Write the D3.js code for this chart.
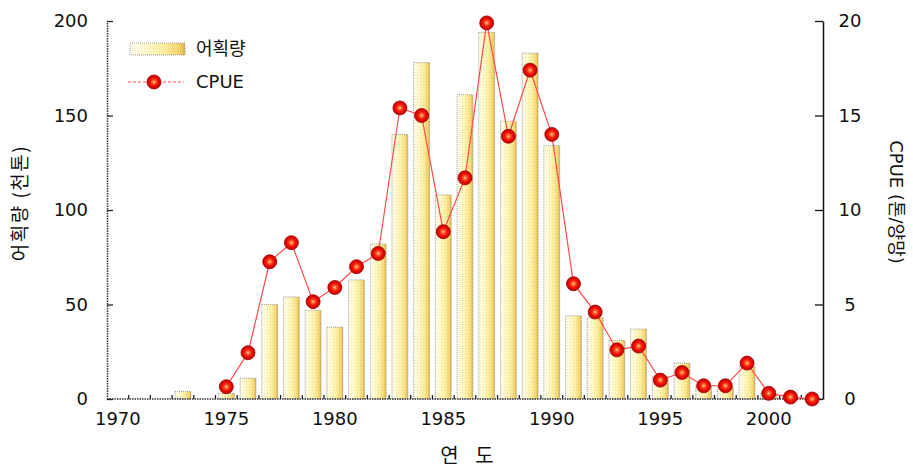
<!DOCTYPE html>
<html>
<head>
<meta charset="utf-8">
<script src="https://cdn.jsdelivr.net/npm/d3@7"></script>
<style>
  html, body { margin: 0; padding: 0; background: #fff; }
  svg { display: block; }
</style>
</head>
<body>
<svg id="chart" width="913" height="472"></svg>
<script>
// ---------------- data ----------------
const years = [1970,1971,1972,1973,1974,1975,1976,1977,1978,1979,1980,1981,1982,1983,1984,1985,1986,
               1987,1988,1989,1990,1991,1992,1993,1994,1995,1996,1997,1998,1999,2000,2001,2002];
// 어획량 (천톤)
const catchValues = [0,0,0,4,0,3,11,50,54,47,38,63,82,140,178,108,161,
                     194,147,183,134,44,43,31,37,12,19,7,6,17,3,1,0];
// CPUE (톤/양망)
const cpueValues = [null,null,null,null,null,0.65,2.45,7.26,8.27,5.15,5.9,7.0,7.7,15.4,15.0,8.85,11.7,
                    19.9,13.9,17.4,14.0,6.1,4.6,2.6,2.8,1.0,1.4,0.7,0.7,1.9,0.3,0.1,0.0];
const xTickLabels = [1970,1975,1980,1985,1990,1995,2000];
const leftTicks = [0,50,100,150,200];
const rightTicks = [0,5,10,15,20];
const leftTitle = "어획량 (천톤)";
const rightTitle = "CPUE (톤/양망)";
const xTitle = "연 도";
const legendLabels = ["어획량", "CPUE"];

// ---------------- layout ----------------
const svg = d3.select("#chart");
const L = 107, R = 823, T = 21, B = 399;
const numFont = "'DejaVu Sans', sans-serif";
const krFont = "'Noto Sans CJK KR', 'DejaVu Sans', sans-serif";
const textColor = "#111";

const x = d3.scaleBand().domain(years).range([L, R]).paddingInner(0.27).paddingOuter(0.135);
const yL = d3.scaleLinear().domain([0, 200]).range([B, T]);
const yR = d3.scaleLinear().domain([0, 20]).range([B, T]);

// ---------------- defs ----------------
const defs = svg.append("defs");
const bg = defs.append("linearGradient").attr("id", "barGrad").attr("x1", "0%").attr("x2", "100%").attr("y1", "0%").attr("y2", "0%");
[["0%", "#fffff6"], ["30%", "#fefad0"], ["62%", "#fbf0a4"], ["88%", "#f3d670"], ["100%", "#e4ae44"]].forEach(s =>
  bg.append("stop").attr("offset", s[0]).attr("stop-color", s[1]));

const pat = defs.append("pattern").attr("id", "dots").attr("width", 3).attr("height", 3).attr("patternUnits", "userSpaceOnUse");
pat.append("rect").attr("x", 0).attr("y", 0).attr("width", 1).attr("height", 1).attr("fill", "rgba(220,170,60,0.3)");
pat.append("rect").attr("x", 1.5).attr("y", 1.5).attr("width", 1).attr("height", 1).attr("fill", "rgba(255,240,140,0.35)");

const rg = defs.append("radialGradient").attr("id", "dotGrad").attr("cx", "50%").attr("cy", "50%").attr("r", "50%");
[["0%", "#ffe6b0"], ["22%", "#ff6a30"], ["55%", "#f4140a"], ["100%", "#c00000"]].forEach(s =>
  rg.append("stop").attr("offset", s[0]).attr("stop-color", s[1]));

svg.append("rect").attr("width", 913).attr("height", 472).attr("fill", "#fff");

// ---------------- bars ----------------
const bars = svg.append("g");
const barData = years.map((y, i) => ({ year: y, v: catchValues[i] })).filter(d => d.v > 0);
bars.selectAll("rect.bar").data(barData).join("rect").attr("class", "bar")
  .attr("x", d => x(d.year)).attr("width", x.bandwidth())
  .attr("y", d => yL(d.v)).attr("height", d => B - yL(d.v))
  .attr("fill", "url(#barGrad)")
  .attr("stroke", "#999").attr("stroke-width", 1).attr("stroke-dasharray", "1,1");
bars.selectAll("rect.tex").data(barData).join("rect").attr("class", "tex")
  .attr("x", d => x(d.year)).attr("width", x.bandwidth())
  .attr("y", d => yL(d.v)).attr("height", d => B - yL(d.v))
  .attr("fill", "url(#dots)");

// ---------------- x baseline & stubs ----------------
svg.append("line").attr("x1", L).attr("x2", R).attr("y1", B).attr("y2", B)
  .attr("stroke", "#333").attr("stroke-width", 1.5).attr("stroke-dasharray", "1.5,1");
const stubs = years.slice(1).map(y => x(y) - (x.step() - x.bandwidth()) / 2);
svg.append("g").selectAll("line").data(stubs).join("line")
  .attr("x1", d => d).attr("x2", d => d).attr("y1", B).attr("y2", B - 4)
  .attr("stroke", "#222").attr("stroke-width", 1.3);

svg.append("g").selectAll("text").data(xTickLabels).join("text")
  .attr("x", d => x(d) + x.bandwidth() / 2).attr("y", 425)
  .attr("text-anchor", "middle").attr("font-family", numFont).attr("font-size", 18)
  .attr("fill", textColor).text(d => d);

// ---------------- left axis ----------------
const gL = svg.append("g").attr("transform", `translate(${L},0)`)
  .call(d3.axisLeft(yL).tickValues(leftTicks).tickSizeInner(-6).tickSizeOuter(0).tickPadding(19));
gL.select(".domain").attr("stroke", "#333").attr("stroke-width", 1.5).attr("stroke-dasharray", "1.5,1");
gL.selectAll(".tick line").attr("stroke", "#222").attr("stroke-width", 1.3);
gL.selectAll(".tick text").attr("font-family", numFont).attr("font-size", 18).attr("fill", textColor);

// ---------------- right axis ----------------
const gR = svg.append("g").attr("transform", `translate(${R},0)`)
  .call(d3.axisRight(yR).tickValues(rightTicks).tickSizeInner(-8).tickSizeOuter(0).tickPadding(27));
gR.select(".domain").attr("stroke", "#111").attr("stroke-width", 1.5);
gR.selectAll(".tick line").attr("stroke", "#111").attr("stroke-width", 1.3);
gR.selectAll(".tick text").attr("font-family", numFont).attr("font-size", 18).attr("fill", textColor)
  .attr("text-anchor", "middle");

// ---------------- CPUE line & dots ----------------
const cpueData = years.map((y, i) => ({ year: y, v: cpueValues[i] })).filter(d => d.v !== null);
const cx = d => x(d.year) + x.bandwidth() / 2;
svg.append("path").datum(cpueData)
  .attr("d", d3.line().x(cx).y(d => yR(d.v)))
  .attr("fill", "none").attr("stroke", "#ff4a4a").attr("stroke-width", 1.2);
svg.append("g").selectAll("circle").data(cpueData).join("circle")
  .attr("cx", cx).attr("cy", d => yR(d.v)).attr("r", 7)
  .attr("fill", "url(#dotGrad)").attr("stroke", "#a00000").attr("stroke-width", 0.8);

// ---------------- legend ----------------
const lg = svg.append("g");
lg.append("rect").attr("x", 130).attr("y", 43).attr("width", 55).attr("height", 12)
  .attr("fill", "url(#barGrad)").attr("stroke", "#999").attr("stroke-dasharray", "1,1");
lg.append("rect").attr("x", 130).attr("y", 43).attr("width", 55).attr("height", 12).attr("fill", "url(#dots)");
lg.append("text").attr("x", 196).attr("y", 49).attr("dy", "0.35em")
  .attr("font-family", krFont).attr("font-size", 18).attr("fill", textColor).text(legendLabels[0]);
lg.append("line").attr("x1", 128).attr("x2", 184).attr("y1", 82).attr("y2", 82)
  .attr("stroke", "#ff4a4a").attr("stroke-width", 1.2).attr("stroke-dasharray", "3,2");
lg.append("circle").attr("cx", 154).attr("cy", 82).attr("r", 7)
  .attr("fill", "url(#dotGrad)").attr("stroke", "#a00000").attr("stroke-width", 0.8);
lg.append("text").attr("x", 196).attr("y", 82).attr("dy", "0.35em")
  .attr("font-family", numFont).attr("font-size", 18).attr("fill", textColor).text(legendLabels[1]);

// ---------------- axis titles ----------------
svg.append("text").attr("transform", "translate(20,203) rotate(-90)")
  .attr("text-anchor", "middle").attr("dy", "0.35em")
  .attr("font-family", krFont).attr("font-size", 19).attr("letter-spacing", 1.5)
  .attr("fill", textColor).text(leftTitle);
svg.append("text").attr("transform", "translate(896,202) rotate(90)")
  .attr("text-anchor", "middle").attr("dy", "0.35em")
  .attr("font-family", "'DejaVu Sans', 'Noto Sans CJK KR', sans-serif").attr("font-size", 18)
  .attr("fill", textColor).text(rightTitle);
svg.append("text").attr("x", 470).attr("y", 456).attr("dy", "0.35em")
  .attr("text-anchor", "middle").attr("font-family", krFont).attr("font-size", 20)
  .attr("letter-spacing", 6).attr("fill", textColor).text(xTitle);
</script>
</body>
</html>
